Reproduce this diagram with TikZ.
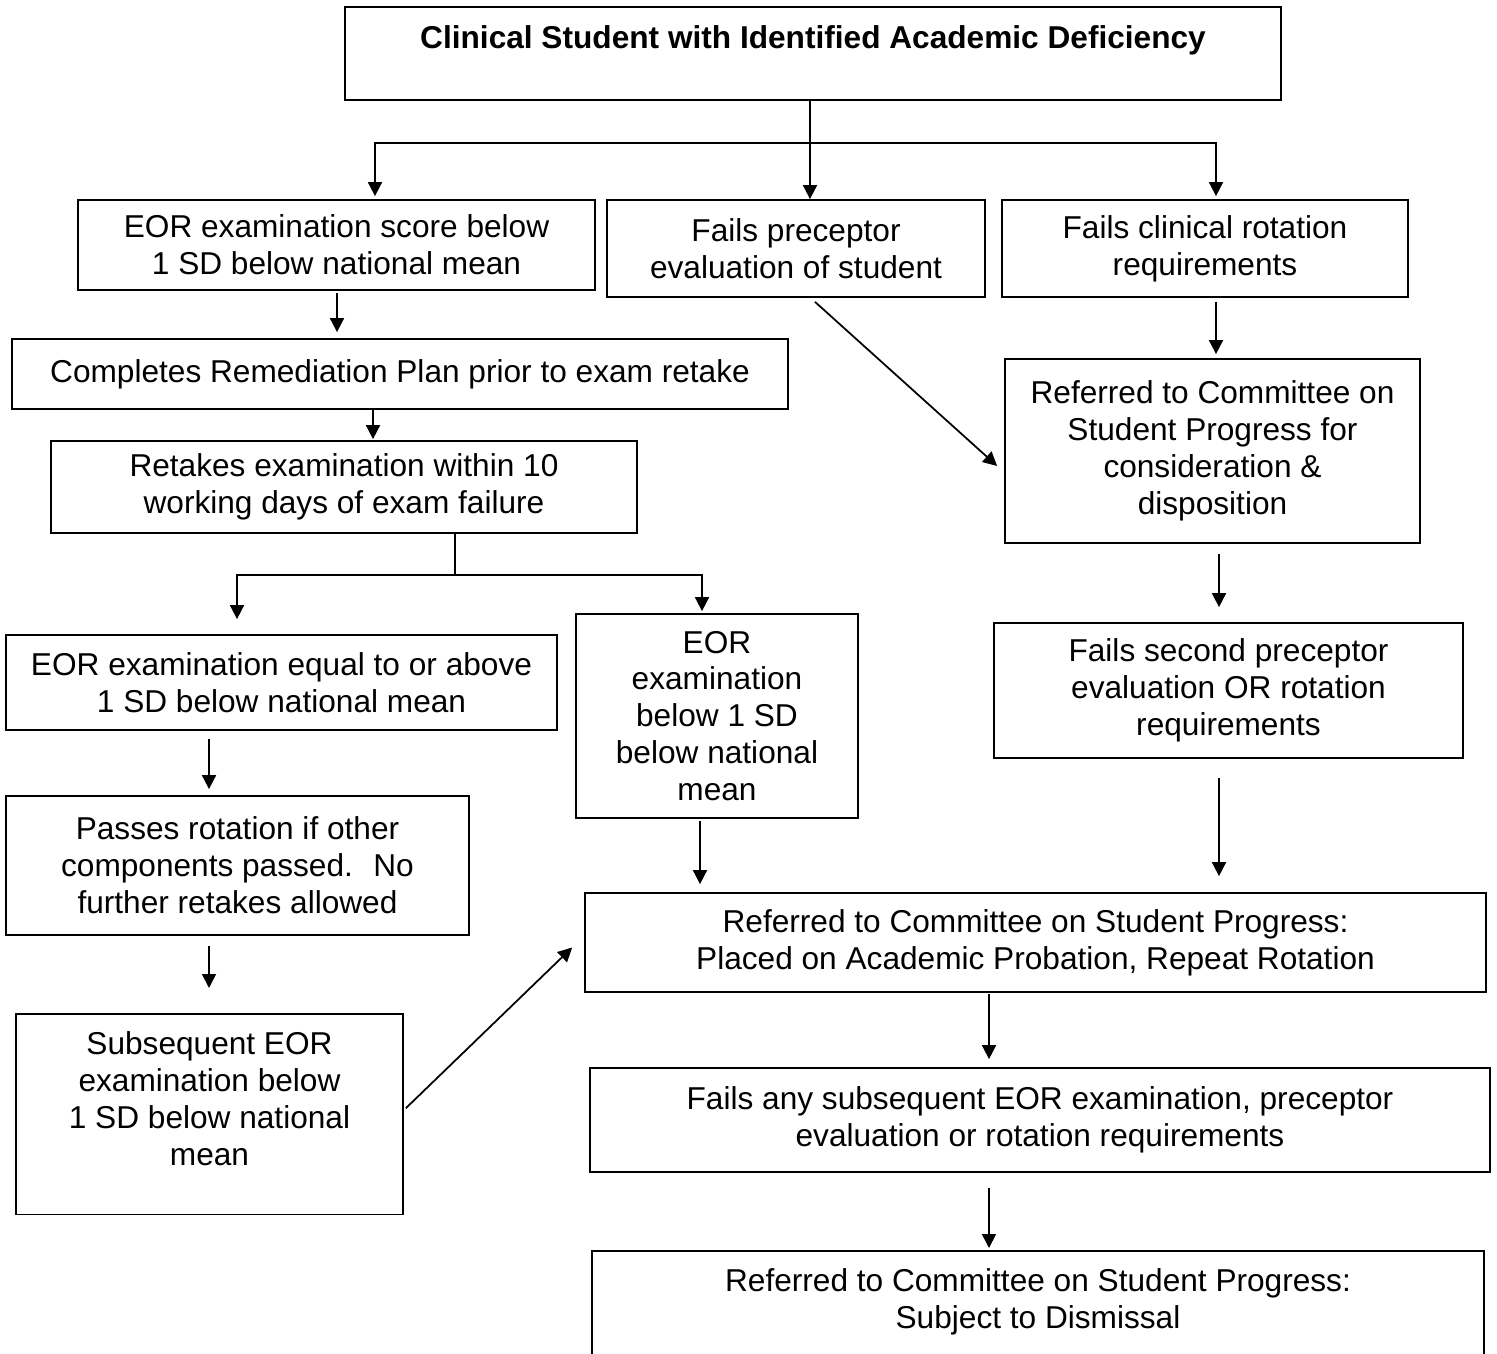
\documentclass[tikz,border=0pt]{standalone}
\usepackage{fontspec}
\setmainfont{Liberation Sans}
\usetikzlibrary{arrows.meta}
\usetikzlibrary{calc}

\begin{document}
\begin{tikzpicture}[x=0.02cm,y=-0.02cm,
    box/.style={draw,line width=1pt,align=center,inner sep=0pt,font=\fontsize{18}{21}\selectfont},
    arr/.style={-{Triangle[length=0.28cm,width=0.28cm]},line width=1pt},
    lin/.style={line width=1pt}]
    \clip (0,0) rectangle (1497,1354);  %Bildrand
    % Kopf
    \node[box,font=\fontsize{18}{21}\selectfont\bfseries,anchor=north,minimum width=936*0.02cm,
      inner ysep=0.38cm,text depth=0.64cm] (deficiency) at (813,6)
      {Clinical Student with Identified Academic Deficiency};
    % erste Reihe
    \node[box,minimum width=517*0.02cm,minimum height=90*0.02cm] (eorscore) at (336.5,245)
      {EOR examination score below\\1 SD below national mean};
    \node[box,minimum width=378*0.02cm,minimum height=97*0.02cm] (preceptor) at (796,248.5)
      {Fails preceptor\\evaluation of student};
    \node[box,minimum width=406*0.02cm,minimum height=97*0.02cm] (rotation) at (1205,248.5)
      {Fails clinical rotation\\requirements};
    % linker Zweig
    \node[box,minimum width=776*0.02cm,minimum height=70*0.02cm] (remediation) at (400,374)
      {Completes Remediation Plan prior to exam retake};
    \node[box,minimum width=586*0.02cm,minimum height=92*0.02cm] (retake) at (344,487)
      {Retakes examination within 10\\working days of exam failure};
    \node[box,minimum width=551*0.02cm,minimum height=95*0.02cm] (above) at (281.5,682.5)
      {EOR examination equal to or above\\1 SD below national mean};
    \node[box,minimum width=282*0.02cm,minimum height=204*0.02cm] (below) at (717,716)
      {EOR\\examination\\below 1 SD\\below national\\mean};
    \node[box,minimum width=463*0.02cm,minimum height=139*0.02cm] (passes) at (237.5,865.5)
      {Passes rotation if other\\components passed.~ No\\further retakes allowed};
    \node[box,anchor=north,minimum width=387*0.02cm,inner ysep=0.36cm,text depth=0.62cm] (subsequent) at (209.5,1013)
      {Subsequent EOR\\examination below\\1 SD below national\\mean};
    % rechter Zweig
    \node[box,minimum width=415*0.02cm,minimum height=184*0.02cm] (committee) at (1212.5,451)
      {Referred to Committee on\\Student Progress for\\consideration \&\\disposition};
    \node[box,minimum width=469*0.02cm,minimum height=135*0.02cm] (second) at (1228.5,690.5)
      {Fails second preceptor\\evaluation OR rotation\\requirements};
    % unten
    \node[box,minimum width=901*0.02cm,minimum height=99*0.02cm] (probation) at (1035.5,942.5)
      {Referred to Committee on Student Progress:\\Placed on Academic Probation, Repeat Rotation};
    \node[box,minimum width=900*0.02cm,minimum height=104*0.02cm] (anyfail) at (1040,1120)
      {Fails any subsequent EOR examination, preceptor\\evaluation or rotation requirements};
    \node[box,anchor=north,minimum width=892*0.02cm,inner ysep=0.36cm,text depth=3cm] (dismissal) at (1038,1250)
      {Referred to Committee on Student Progress:\\Subject to Dismissal};
    % Verbindungen
    \coordinate (split) at ($(deficiency.south)+(-3,42)$);
    \draw[lin] (split |- deficiency.south) -- (split);
    \draw[arr] (split) -| ($(eorscore.north)+(38.5,-3)$);
    \draw[arr] (split) -- (split |- preceptor.north);
    \draw[arr] (split) -| ($(rotation.north)+(11,-3)$);
    \draw[arr] ($(eorscore.south)+(0.5,2)$) -- ($(eorscore.south |- remediation.north)+(0.5,-6)$);
    \draw[arr] ($(remediation.south)+(-27,0)$) -- ($(remediation.south |- retake.north)+(-27,-1)$);
    \coordinate (split2) at ($(retake.south)+(111,41)$);
    \draw[lin] (split2 |- retake.south) -- (split2);
    \draw[arr] (split2) -| ($(above.north)+(-44.5,-15)$);
    \draw[arr] (split2) -| ($(below.north)+(-15,-2)$);
    \draw[arr] ($(above.south)+(-72.5,8)$) -- ($(above.south |- passes.north)+(-72.5,-6)$);
    \draw[arr] ($(passes.south)+(-28.5,10)$) -- ($(passes.south |- subsequent.north)+(-28.5,-25)$);
    \draw[arr] ($(subsequent.east)+(2,-6)$) -- ($(probation.west)+(-12,5)$);
    \draw[arr] ($(below.south)+(-17,2)$) -- ($(below.south |- probation.north)+(-17,-8)$);
    \draw[arr] ($(rotation.south)+(11,4)$) -- ($(rotation.south |- committee.north)+(11,-4)$);
    \draw[arr] ($(preceptor.south)+(19,4)$) -- ($(committee.west)+(-7,15)$);
    \draw[arr] ($(committee.south)+(6.5,10)$) -- ($(committee.south |- second.north)+(6.5,-15)$);
    \draw[arr] ($(second.south)+(-9.5,19)$) -- ($(second.south |- probation.north)+(-9.5,-16)$);
    \draw[arr] ($(probation.south)+(-46.5,1)$) -- ($(probation.south |- anyfail.north)+(-46.5,-8)$);
    \draw[arr] ($(anyfail.south)+(-51,15)$) -- ($(anyfail.south |- dismissal.north)+(-51,-2)$);
\end{tikzpicture}
\end{document}
